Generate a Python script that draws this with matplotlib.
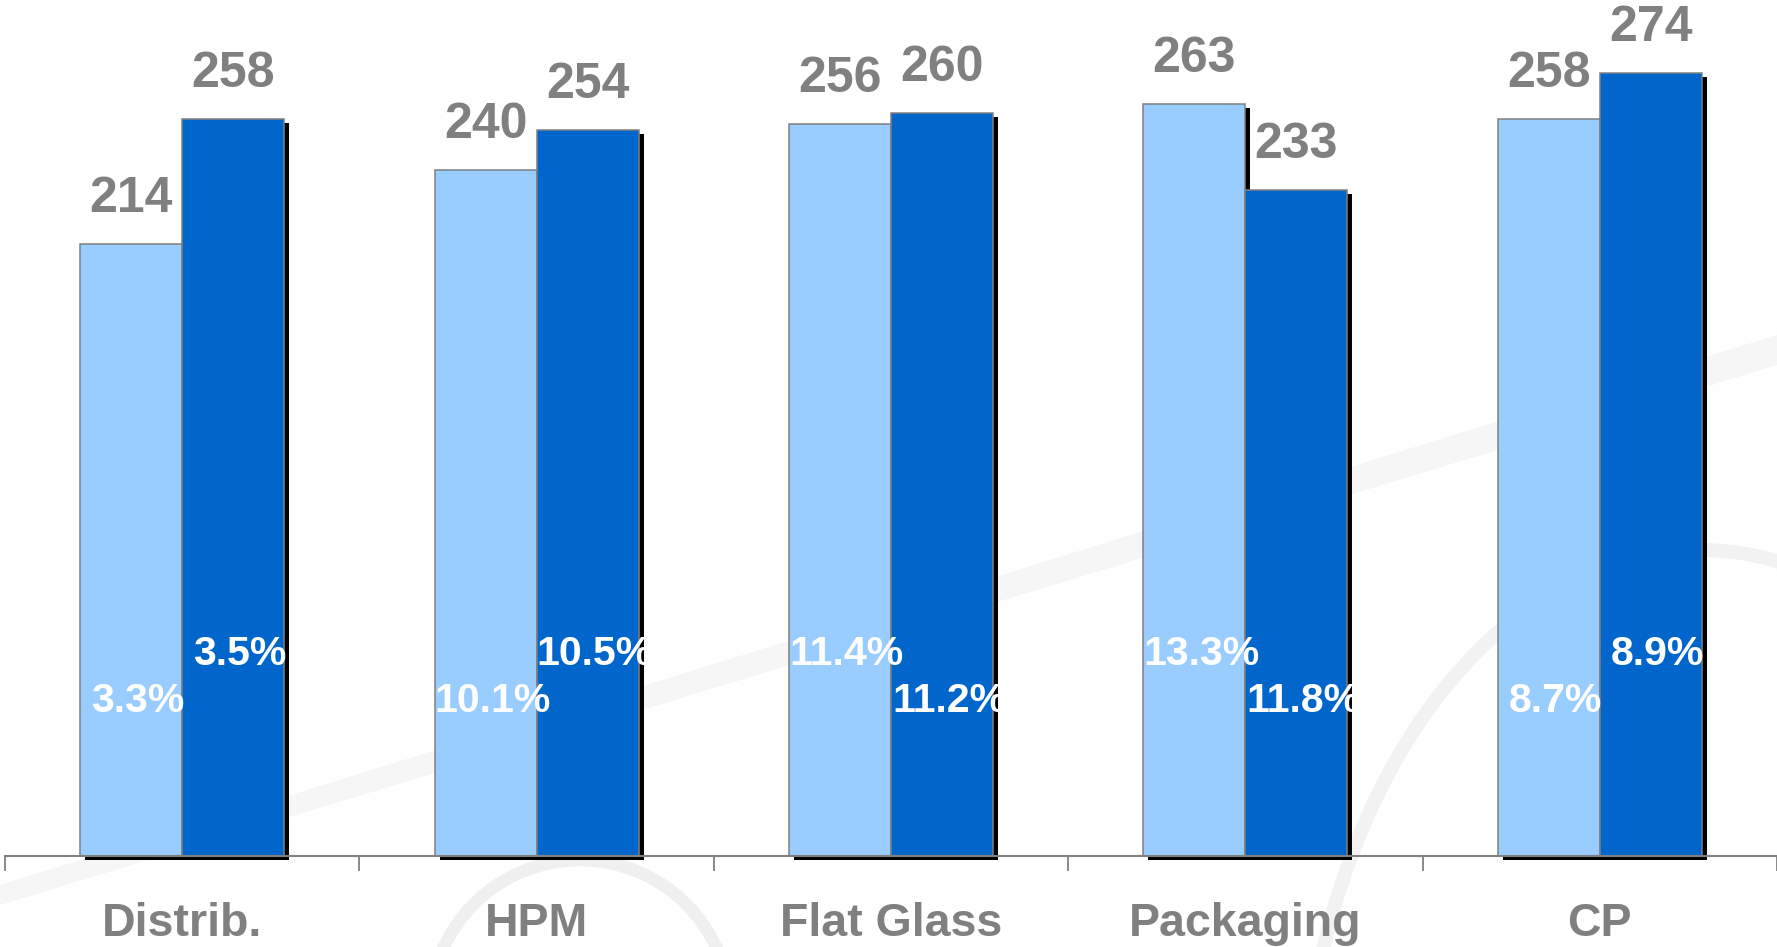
import numpy as np
import matplotlib
matplotlib.use('Agg')
import matplotlib.pyplot as plt
import matplotlib.patheffects as pe
from matplotlib.patches import Arc, Polygon

categories = ['Distrib.', 'HPM', 'Flat Glass', 'Packaging', 'CP']
values_prev = [214, 240, 256, 263, 258]
values_curr = [258, 254, 260, 233, 274]
margin_prev = [3.3, 10.1, 11.4, 13.3, 8.7]
margin_curr = [3.5, 10.5, 11.2, 11.8, 8.9]

light = '#99CCFF'
dark = '#0066CC'
grey = '#808080'

plt.rcParams['font.family'] = ['Liberation Sans', 'DejaVu Sans']
plt.rcParams['font.weight'] = 'bold'

fig = plt.figure(figsize=(17.77, 9.47), dpi=100)

# faint watermark swooshes in the background
bg = fig.add_axes([0, 0, 1, 1], zorder=0)
bg.set_xlim(0, 1777)
bg.set_ylim(947, 0)
bg.axis('off')
bg.add_patch(Polygon([[0, 885], [1777, 335], [1777, 365], [0, 905]],
                     closed=True, fc='#f6f6f6', ec='none'))
bg.add_patch(Arc((580, 1010), 300, 300, theta1=180, theta2=360,
                 color='#efefef', lw=9))
bg.add_patch(Arc((1700, 1150), 800, 1200, theta1=180, theta2=300,
                 color='#f2f2f2', lw=10))

ax = fig.add_axes([5 / 1777, 91 / 947, 1 - 5 / 1777, 1 - 91 / 947], zorder=1)
ax.patch.set_alpha(0)

x = np.arange(len(categories))
w = 0.288
shadow = [pe.SimplePatchShadow(offset=(3.6, -2.9), shadow_rgbFace='black', alpha=1.0),
          pe.Normal()]

b1 = ax.bar(x - w / 2, values_prev, w, color=light, edgecolor=grey, linewidth=1.1,
            clip_on=False, zorder=2)
b2 = ax.bar(x + w / 2, values_curr, w, color=dark, edgecolor=grey, linewidth=1.1,
            clip_on=False, zorder=3)
for b in list(b1) + list(b2):
    b.set_path_effects(shadow)

# value labels above bars
for xs, vals in [(x - w / 2, values_prev), (x + w / 2, values_curr)]:
    for xi, v in zip(xs, vals):
        ax.annotate(str(v), (xi, v), xytext=(0, 23), textcoords='offset points',
                    ha='center', va='baseline', color=grey, fontsize=36,
                    fontweight='bold', annotation_clip=False)

# margin labels inside bars, higher margin sits higher
for i in range(len(categories)):
    for xi, m, other in [(x[i] - w / 2, margin_prev[i], margin_curr[i]),
                         (x[i] + w / 2, margin_curr[i], margin_prev[i])]:
        yy = 67 if m > other else 50.5
        ax.annotate(f'{m:.1f}%', (xi, yy), xytext=(5, 0), textcoords='offset points',
                    ha='center', va='baseline', color='white', fontsize=29.5,
                    fontweight='bold', zorder=5)

ax.set_xlim(-0.5, 4.5)
ax.set_ylim(0, 299.5)
for s in ['top', 'right', 'left']:
    ax.spines[s].set_visible(False)
ax.spines['bottom'].set_color(grey)
ax.spines['bottom'].set_linewidth(1.5)
ax.spines['bottom'].set_zorder(4)
ax.set_yticks([])

ax.set_xticks(np.arange(-0.5, 5.0, 1.0))
ax.set_xticklabels([])
ax.tick_params(axis='x', which='major', length=11, width=1.3, color=grey, direction='out')
ax.set_xticks(x, minor=True)
ax.set_xticklabels(categories, minor=True)
ax.tick_params(axis='x', which='minor', length=0, pad=33, labelsize=33.5,
               labelcolor=grey)
for t in ax.get_xticklabels(minor=True):
    t.set_fontweight('bold')

fig.savefig('out.png', dpi=100)
